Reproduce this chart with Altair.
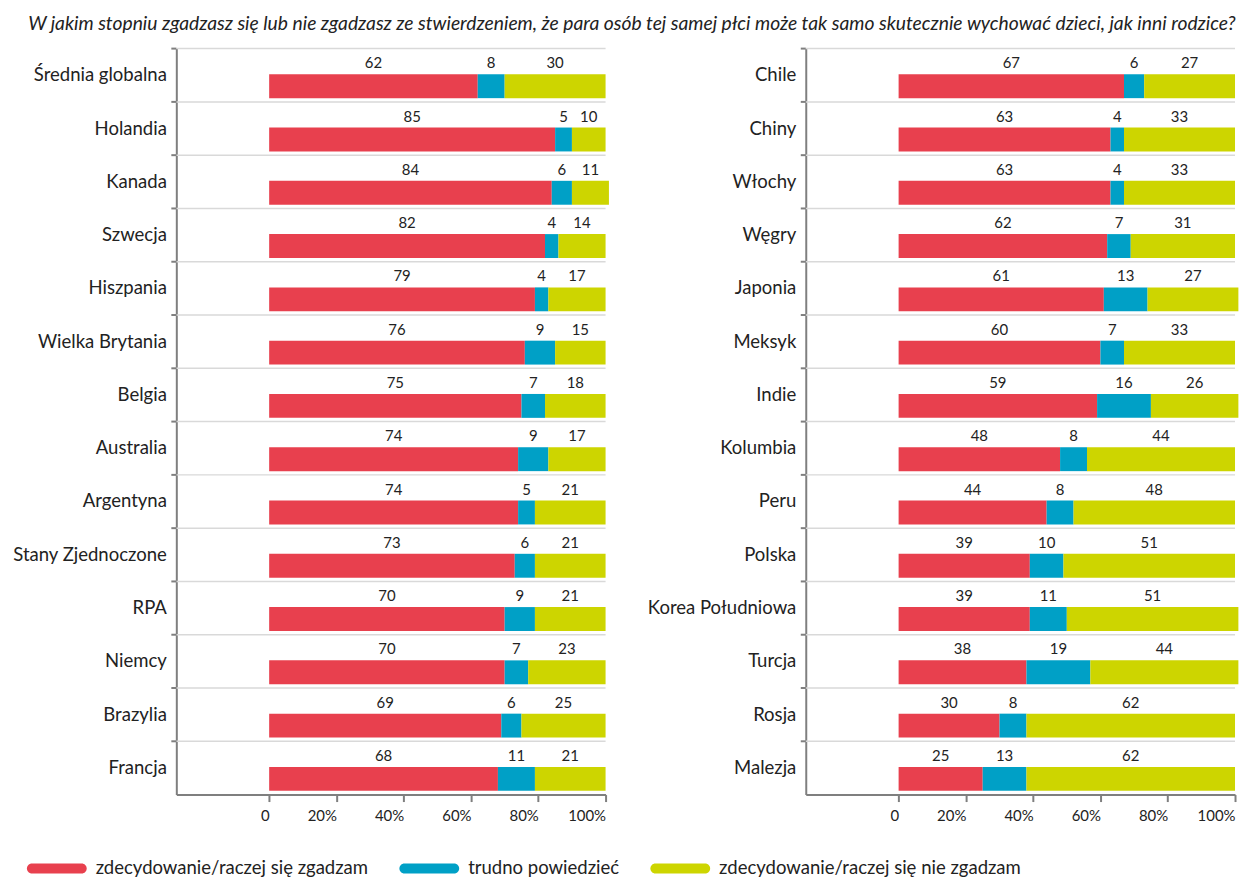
import altair as alt
import pandas as pd

title_text = ("W jakim stopniu zgadzasz się lub nie zgadzasz ze stwierdzeniem, że para osób tej samej płci "
              "może tak samo skutecznie wychować dzieci, jak inni rodzice?")

categories = ["zdecydowanie/raczej się zgadzam", "trudno powiedzieć", "zdecydowanie/raczej się nie zgadzam"]
colors = ["#E8404E", "#00A0C6", "#CDD500"]

left_countries = ["Średnia globalna", "Holandia", "Kanada", "Szwecja", "Hiszpania", "Wielka Brytania",
                  "Belgia", "Australia", "Argentyna", "Stany Zjednoczone", "RPA", "Niemcy", "Brazylia", "Francja"]
left_agree = [62, 85, 84, 82, 79, 76, 75, 74, 74, 73, 70, 70, 69, 68]
left_unsure = [8, 5, 6, 4, 4, 9, 7, 9, 5, 6, 9, 7, 6, 11]
left_disagree = [30, 10, 11, 14, 17, 15, 18, 17, 21, 21, 21, 23, 25, 21]

right_countries = ["Chile", "Chiny", "Włochy", "Węgry", "Japonia", "Meksyk", "Indie", "Kolumbia", "Peru",
                   "Polska", "Korea Południowa", "Turcja", "Rosja", "Malezja"]
right_agree = [67, 63, 63, 62, 61, 60, 59, 48, 44, 39, 39, 38, 30, 25]
right_unsure = [6, 4, 4, 7, 13, 7, 16, 8, 8, 10, 11, 19, 8, 13]
right_disagree = [27, 33, 33, 31, 27, 33, 26, 44, 48, 51, 51, 44, 62, 62]

tick_values = [0, 20, 40, 60, 80, 100]
x_domain = [-27.6, 100]

W = 431
STEP = 53.5
H = STEP * 14

# rounded "pill" legend symbol (in the -1..1 unit box)
PILL = ("M-0.8333,-0.1667 L0.8333,-0.1667 A0.1667,0.1667 0 0 1 0.8333,0.1667 "
        "L-0.8333,0.1667 A0.1667,0.1667 0 0 1 -0.8333,-0.1667 Z")


def build_df(countries, a, u, d):
    rows = []
    for i, c in enumerate(countries):
        for k, (cat, v) in enumerate(zip(categories, (a[i], u[i], d[i]))):
            rows.append({"country": c, "cat": cat, "order": k, "value": v})
    return pd.DataFrame(rows)


def panel(countries, a, u, d):
    df = build_df(countries, a, u, d)
    xscale = alt.Scale(domain=x_domain, nice=False, zero=False)
    yscale = alt.Scale(domain=countries, paddingInner=0, paddingOuter=0)
    yaxis = alt.Axis(title=None, ticks=False, labelFontSize=18.6, labelColor="#222222",
                     labelPadding=10, domainColor="#7F7F7F", domainWidth=2, grid=False,
                     labelLimit=300)
    xaxis = alt.Axis(title=None, values=tick_values, labelAlign="right", labelFontSize=15,
                     labelColor="#222222", labelExpr="datum.value == 0 ? '0' : datum.value + '%'",
                     domainColor="#7F7F7F", domainWidth=2, tickColor="#7F7F7F", tickWidth=2,
                     tickSize=7, labelPadding=7, grid=False)
    base = alt.Chart(df).transform_stack(
        stack="value", groupby=["country"], as_=["x0", "x1"], sort=[alt.SortField("order")]
    ).transform_calculate(mid="(datum.x0 + datum.x1) / 2")

    bars = base.mark_bar(size=24, yOffset=11).encode(
        x=alt.X("x0:Q", scale=xscale, axis=xaxis),
        x2="x1:Q",
        y=alt.Y("country:N", scale=yscale, axis=yaxis),
        color=alt.Color("cat:N", scale=alt.Scale(domain=categories, range=colors),
                        legend=alt.Legend(title=None)),
    )
    labels = base.mark_text(yOffset=-12, fontSize=15, color="#222222").encode(
        x=alt.X("mid:Q", scale=xscale, axis=xaxis),
        y=alt.Y("country:N", scale=yscale, axis=yaxis),
        text=alt.Text("value:Q"),
    )
    sep_df = pd.DataFrame({"country": countries})
    sep = alt.Chart(sep_df).mark_rule(yOffset=-STEP / 2, color="#D9D9D9", strokeWidth=1.5).encode(
        y=alt.Y("country:N", scale=yscale, axis=yaxis),
        x=alt.value(0), x2=alt.value(W),
    )
    ticks = alt.Chart(sep_df).mark_rule(yOffset=-STEP / 2, color="#7F7F7F", strokeWidth=2).encode(
        y=alt.Y("country:N", scale=yscale, axis=yaxis),
        x=alt.value(-5), x2=alt.value(0),
    )
    return alt.layer(sep, ticks, bars, labels).properties(width=W, height=H)


left = panel(left_countries, left_agree, left_unsure, left_disagree)
right = panel(right_countries, right_agree, right_unsure, right_disagree)

chart = alt.hconcat(left, right, spacing=37).resolve_scale(y="independent").properties(
    title=alt.TitleParams(title_text, anchor="start", fontStyle="italic", fontWeight="normal",
                          fontSize=19.35, color="#222222", dx=16, offset=13),
    padding={"left": 4, "top": 5, "right": 0, "bottom": 0},
).configure(font="Lato").configure_view(stroke=None).configure_bar(strokeWidth=0).configure_legend(
    orient="none", legendX=-150, legendY=793, direction="horizontal", symbolType=PILL,
    symbolStrokeWidth=0, symbolSize=3600, labelFontSize=18.6, labelColor="#222222",
    columnPadding=31, labelOffset=9, symbolOpacity=1, labelLimit=600,
)

chart.save("out.html", embed_options={"renderer": "svg", "actions": False})
